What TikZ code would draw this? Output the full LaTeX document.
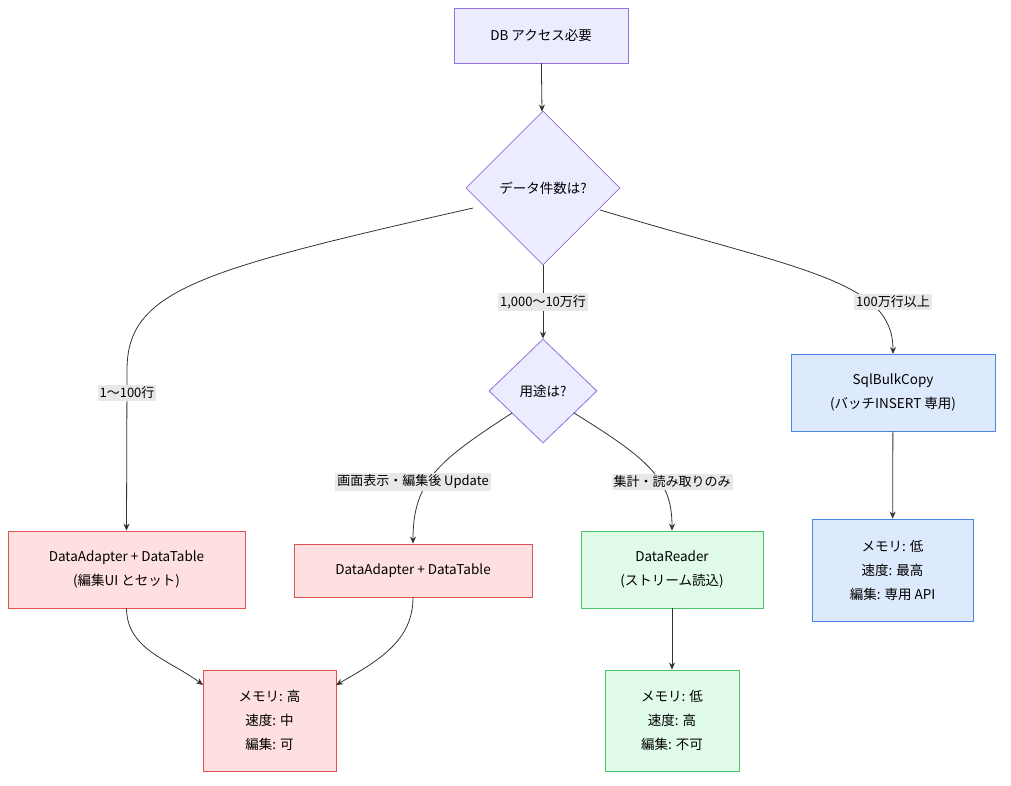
\documentclass[tikz,border=0pt]{standalone}
\usepackage{fontspec}
\setmainfont{Noto Sans CJK JP}
\usetikzlibrary{arrows.meta,shapes.geometric}
\definecolor{pfill}{HTML}{ECECFF}\definecolor{pline}{HTML}{9370DB}
\definecolor{rfill}{HTML}{FFE0E0}\definecolor{rline}{HTML}{E05252}
\definecolor{gfill}{HTML}{E0FBE8}\definecolor{gline}{HTML}{4CC46A}
\definecolor{bfill}{HTML}{DDE9FC}\definecolor{bline}{HTML}{4A86E8}
\begin{document}
\begin{tikzpicture}[x=1pt,y=-1pt,font=\fontsize{13.5}{24}\selectfont,
 box/.style={draw,align=center,inner sep=0pt,line width=0.8pt},
 pb/.style={box,fill=pfill,draw=pline},
 rb/.style={box,fill=rfill,draw=rline},
 gb/.style={box,fill=gfill,draw=gline},
 bb/.style={box,fill=bfill,draw=bline},
 dia/.style={diamond,draw=pline,fill=pfill,line width=0.8pt,inner sep=0pt,align=center},
 e/.style={draw=black!80,line width=0.8pt,-{Stealth[length=7pt,width=6pt]}},
 lab/.style={fill=black!9,inner sep=2pt,font=\fontsize{13}{15}\selectfont}]
\useasboundingbox (0,0) rectangle (1011,786);
\node[pb,minimum width=174,minimum height=55] (top) at (541,35.5) {DB アクセス必要};
\node[dia,minimum width=154,minimum height=154] (d1) at (543,188) {データ件数は?};
\node[dia,minimum width=108,minimum height=104] (d2) at (543,391) {用途は?};
\node[bb,minimum width=204,minimum height=77] (sb) at (893,392.5) {SqlBulkCopy\\(バッチINSERT 専用)};
\node[bb,minimum width=161,minimum height=102] (m3) at (892.5,570) {メモリ: 低\\速度: 最高\\編集: 専用 API};
\node[rb,minimum width=237,minimum height=77] (da1) at (126.5,569.5) {DataAdapter + DataTable\\(編集UI とセット)};
\node[rb,minimum width=238,minimum height=53] (da2) at (413,570.5) {DataAdapter + DataTable};
\node[gb,minimum width=182,minimum height=77] (dr) at (672,569.5) {DataReader\\(ストリーム読込)};
\node[rb,minimum width=133,minimum height=101] (m1) at (269.5,720.5) {メモリ: 高\\速度: 中\\編集: 可};
\node[gb,minimum width=134,minimum height=101] (m2) at (672,720.5) {メモリ: 低\\速度: 高\\編集: 不可};
\coordinate (c1) at (473,208);
\coordinate (c2) at (600,210);
\draw[e] (top) -- (d1);
\draw[e] (c1) .. controls (200,270) and (127,290) .. (127,370) -- (da1.north);
\node[lab] at (127,393) {1〜100行};
\draw[e] (d1.south) -- (d2.north);
\node[lab] at (543,302) {1,000〜10万行};
\draw[e] (c2) .. controls (800,270) and (893,280) .. (893,354);
\node[lab] at (893,302) {100万行以上};
\coordinate (c3) at (512,413);
\coordinate (c4) at (574,413);
\draw[e] (c3) .. controls (440,460) and (413,480) .. (da2.north);
\node[lab] at (413,482) {画面表示・編集後 Update};
\draw[e] (c4) .. controls (650,460) and (672,480) .. (dr.north);
\node[lab] at (672,482) {集計・読み取りのみ};
\draw[e] (sb) -- (m3);
\draw[e] (da1.south) .. controls (127,650) and (170,660) .. (203,685);
\draw[e] (da2.south) .. controls (413,640) and (380,660) .. (336,685);
\draw[e] (dr) -- (m2);
\end{tikzpicture}
\end{document}
